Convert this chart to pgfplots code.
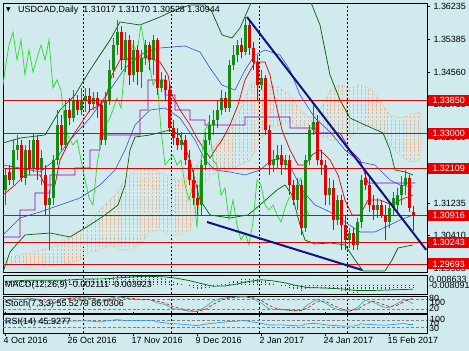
\documentclass[border=0pt]{standalone}
\usepackage{fontspec}
\setmainfont{Liberation Sans}
\newfontfamily\dejavu{DejaVu Sans}
\usepackage{pgfplots}
\pgfplotsset{compat=1.18}
\usepackage{pgfplotstable}
\usetikzlibrary{patterns.meta}
\definecolor{bg}{RGB}{208,234,238}
\definecolor{cgreen}{RGB}{20,140,20}
\definecolor{cred}{RGB}{230,0,0}
\definecolor{bbgreen}{RGB}{0,100,0}
\definecolor{bblue}{RGB}{50,80,200}
\definecolor{kpurple}{RGB}{150,0,170}
\definecolor{chikou}{RGB}{40,220,40}
\definecolor{trend}{RGB}{20,20,120}
\definecolor{cloud}{RGB}{240,180,140}
\definecolor{stk}{RGB}{32,178,170}
\definecolor{rsic}{RGB}{30,144,255}

\pgfplotstableread{
i o h l c
0 1.31570 1.32127 1.31189 1.31950
1 1.32026 1.32203 1.31696 1.31823
2 1.31823 1.32837 1.31696 1.32584
3 1.32584 1.32964 1.32330 1.32711
4 1.32711 1.32837 1.31772 1.31874
5 1.31874 1.32711 1.31696 1.32584
6 1.32584 1.32837 1.31950 1.32127
7 1.32127 1.33015 1.32026 1.32837
8 1.32837 1.32964 1.31823 1.32077
9 1.32077 1.32584 1.31696 1.32381
10 1.31950 1.32203 1.30936 1.31189
11 1.31189 1.31570 1.30048 1.31367
12 1.31367 1.32457 1.31189 1.32330
13 1.32330 1.33598 1.32203 1.33218
14 1.33218 1.33471 1.32584 1.32711
15 1.32711 1.33851 1.32584 1.33598
16 1.33598 1.33902 1.33218 1.33395
17 1.33395 1.34105 1.33294 1.33851
18 1.33851 1.33978 1.33471 1.33598
19 1.33598 1.34156 1.33471 1.33851
20 1.33851 1.34156 1.33547 1.33953
21 1.33953 1.34156 1.33547 1.33750
22 1.33750 1.34054 1.33598 1.33902
23 1.33902 1.34054 1.33395 1.33725
24 1.33725 1.33851 1.32711 1.32837
25 1.32837 1.34054 1.32711 1.33851
26 1.33851 1.34866 1.33725 1.34612
27 1.34612 1.35424 1.34409 1.35246
28 1.35246 1.35880 1.34992 1.35576
29 1.35576 1.35728 1.34612 1.34866
30 1.34866 1.35576 1.34561 1.35373
31 1.35373 1.35500 1.34232 1.34485
32 1.34485 1.35373 1.34308 1.35119
33 1.35119 1.35246 1.34232 1.34561
34 1.34561 1.35119 1.34156 1.34916
35 1.34916 1.35373 1.34739 1.35246
36 1.35246 1.35322 1.34612 1.34866
37 1.34866 1.35500 1.34485 1.35373
38 1.35373 1.35424 1.33978 1.34156
39 1.34156 1.34561 1.34054 1.34359
40 1.34359 1.34485 1.33851 1.34105
41 1.34105 1.34308 1.33040 1.33142
42 1.33142 1.33344 1.32711 1.32888
43 1.32888 1.33142 1.32584 1.32711
44 1.32711 1.33040 1.32584 1.32837
45 1.32837 1.32964 1.32203 1.32330
46 1.32330 1.32584 1.31696 1.31823
47 1.31823 1.32077 1.31189 1.31367
48 1.31367 1.31696 1.30936 1.31189
49 1.31189 1.32330 1.30936 1.32203
50 1.32203 1.33040 1.32077 1.32837
51 1.32837 1.33471 1.32711 1.33218
52 1.33218 1.33598 1.32964 1.33344
53 1.33344 1.33851 1.33142 1.33598
54 1.33598 1.34105 1.33471 1.33902
55 1.33902 1.34054 1.33547 1.33649
56 1.33649 1.34866 1.33547 1.34739
57 1.34739 1.35246 1.34612 1.34992
58 1.34992 1.35373 1.34815 1.35246
59 1.35246 1.35424 1.34916 1.35069
60 1.35069 1.35956 1.34992 1.35753
61 1.35753 1.35880 1.34992 1.35170
62 1.35170 1.35322 1.34612 1.34815
63 1.34815 1.34992 1.33851 1.34232
64 1.34232 1.34612 1.34105 1.34409
65 1.34409 1.34485 1.32964 1.33091
66 1.33091 1.33218 1.31950 1.32203
67 1.32203 1.32584 1.32026 1.32330
68 1.32330 1.32711 1.32127 1.32457
69 1.32457 1.32711 1.31950 1.32203
70 1.32203 1.32457 1.32077 1.32330
71 1.32330 1.32457 1.31443 1.31696
72 1.31696 1.31823 1.31189 1.31316
73 1.31316 1.31874 1.31062 1.31696
74 1.31696 1.31823 1.30429 1.30606
75 1.30606 1.32457 1.30505 1.32330
76 1.32330 1.33218 1.32203 1.33091
77 1.33091 1.33725 1.32964 1.33294
78 1.33294 1.33471 1.32203 1.32330
79 1.32330 1.32584 1.31950 1.32203
80 1.32203 1.32330 1.31189 1.31443
81 1.31443 1.31874 1.31189 1.31620
82 1.31620 1.31823 1.30555 1.30809
83 1.30809 1.31443 1.30682 1.31316
84 1.31316 1.31443 1.30048 1.30682
85 1.30682 1.30936 1.30048 1.30302
86 1.30302 1.30606 1.30099 1.30479
87 1.30479 1.30606 1.30048 1.30175
88 1.30175 1.30860 1.30048 1.30758
89 1.30758 1.31950 1.30606 1.31823
90 1.31874 1.32077 1.31570 1.31696
91 1.31696 1.31874 1.31012 1.31189
92 1.31189 1.31443 1.30809 1.31062
93 1.31062 1.31367 1.30860 1.31189
94 1.31189 1.31316 1.30860 1.30936
95 1.30936 1.31189 1.30302 1.30758
96 1.30758 1.31265 1.30606 1.31113
97 1.31113 1.31519 1.30936 1.31367
98 1.31189 1.31620 1.31012 1.31443
99 1.31443 1.31925 1.31189 1.31696
100 1.31696 1.32077 1.31443 1.31874
101 1.31874 1.31950 1.31012 1.31113
102 1.31017 1.31170 1.30528 1.30944
}\candles

\pgfplotstableread{
i m
0 0.0035
1 0.0036
2 0.0040
3 0.0043
4 0.0042
5 0.0044
6 0.0043
7 0.0046
8 0.0044
9 0.0043
10 0.0036
11 0.0030
12 0.0032
13 0.0040
14 0.0043
15 0.0050
16 0.0052
17 0.0056
18 0.0057
19 0.0058
20 0.0058
21 0.0057
22 0.0057
23 0.0055
24 0.0046
25 0.0050
26 0.0058
27 0.0068
28 0.0078
29 0.0080
30 0.0083
31 0.0080
32 0.0081
33 0.0078
34 0.0077
35 0.0078
36 0.0075
37 0.0076
38 0.0068
39 0.0062
40 0.0055
41 0.0042
42 0.0030
43 0.0018
44 0.0010
45 0.0000
46 -0.0012
47 -0.0026
48 -0.0038
49 -0.0036
50 -0.0028
51 -0.0018
52 -0.0010
53 -0.0002
54 0.0008
55 0.0012
56 0.0025
57 0.0035
58 0.0044
59 0.0048
60 0.0056
61 0.0056
62 0.0054
63 0.0048
64 0.0044
65 0.0032
66 0.0018
67 0.0008
68 0.0000
69 -0.0008
70 -0.0012
71 -0.0022
72 -0.0032
73 -0.0036
74 -0.0048
75 -0.0040
76 -0.0030
77 -0.0022
78 -0.0022
79 -0.0023
80 -0.0030
81 -0.0034
82 -0.0042
83 -0.0044
84 -0.0050
85 -0.0056
86 -0.0060
87 -0.0064
88 -0.0062
89 -0.0050
90 -0.0044
91 -0.0042
92 -0.0040
93 -0.0038
94 -0.0037
95 -0.0037
96 -0.0034
97 -0.0030
98 -0.0026
99 -0.0020
100 -0.0016
101 -0.0019
102 -0.0021
}\macd

\pgfplotstableread{
i s
0 0.0030
5 0.0040
10 0.0041
15 0.0040
20 0.0052
25 0.0053
30 0.0066
35 0.0076
40 0.0070
43 0.0058
46 0.0038
49 0.0012
52 -0.0012
55 -0.0010
58 0.0008
61 0.0030
64 0.0045
67 0.0035
70 0.0018
73 -0.0008
76 -0.0025
80 -0.0028
84 -0.0036
88 -0.0050
92 -0.0050
96 -0.0045
100 -0.0041
102 -0.0039
}\macdsig

\pgfplotstableread{
i k d
0 70 65
2 85 78
4 75 80
6 88 82
8 80 82
10 45 65
12 60 55
14 85 72
16 88 85
18 90 88
20 88 89
22 85 87
24 60 75
26 85 75
28 97 88
30 88 90
32 80 85
34 78 80
36 80 79
38 60 70
40 50 58
42 25 38
44 20 25
46 10 15
48 8 10
50 35 20
52 70 50
54 85 75
56 92 88
58 95 93
60 97 95
62 85 90
64 60 75
66 25 45
68 20 25
70 18 20
72 12 15
74 15 13
76 55 35
78 80 65
80 60 70
82 30 45
84 15 25
86 10 12
88 30 20
90 75 50
92 65 70
94 40 55
96 30 38
98 55 45
100 80 70
102 55.53 86.03
}\stoch

\pgfplotstableread{
i r
0 58
3 60
6 62
9 58
11 50
13 60
16 64
20 66
24 60
26 68
28 72
31 66
34 68
37 68
38 60
41 52
44 48
47 42
48 40
50 48
53 55
56 62
58 64
60 68
61 62
63 56
65 48
66 43
69 44
72 40
74 38
75 48
77 52
79 48
81 42
84 38
86 37
88 40
89 50
91 46
93 44
95 42
97 46
99 50
100 51
101 46
102 45.93
}\rsi

\newcommand{\fs}{\fontsize{9}{10}\selectfont}

\pgfplotsset{
  every tick label/.append style={font=\fs, text=black},
  panel/.style={scale only axis, width=424bp, xmin=-0.5, xmax=105.5,
    anchor=south west, axis line style={black, line width=0.8bp},
    xtick={19.5,41.5,63.5,85.5}, xticklabels={}, xtick style={draw=none},
    xmajorgrids=true, ymajorgrids=false,
    major grid style={black, dash pattern=on 2bp off 2bp, line width=0.6bp},
    clip mode=individual, ytick=\empty},
}

\begin{document}
\begin{tikzpicture}
\path[use as bounding box, fill=bg] (0,0) rectangle (469bp,351bp);

% ---------------- main price panel ----------------
\begin{axis}[panel, at={(3bp,79bp)}, height=269bp,
  ymin=1.29490, ymax=1.36311,
  ytick={1.29583,1.30410,1.31235,1.32085,1.32910,1.33735,1.34560,1.35385,1.36235},
  yticklabels={1.29583,1.30410,1.31235,1.32085,1.32910,1.33735,1.34560,1.35385,1.36235},
  ytick pos=right, yticklabel pos=right, ytick style={black, line width=0.6bp},
  tick align=outside, major tick length=3bp]

% Ichimoku cloud
\addplot[draw=cloud, dash pattern=on 1.5bp off 1.5bp, line width=0.5bp,
  pattern={Lines[angle=90,distance=3.8bp,line width=0.45bp]}, pattern color=cloud]
 coordinates {(0,1.29845)(3.75,1.29921)(8.75,1.30048)(13.75,1.30175)(17.5,1.30505)(20,1.30606)(22.5,1.30936)(25,1.31189)(27.5,1.31443)(30,1.31823)(32.5,1.32077)(36.25,1.32127)(40,1.31950)(43.75,1.31823)(46.25,1.31950)(48.75,1.32330)(51.25,1.32584)(53.75,1.32837)(56.25,1.33091)(58.75,1.33598)(61.25,1.34232)(63.75,1.34359)(66.25,1.34232)(68.75,1.34156)(71.25,1.33978)(73.75,1.33598)(76.25,1.33395)(78.75,1.33598)(81.25,1.34105)(83.75,1.34232)(86.25,1.34156)(88.75,1.34232)(91.25,1.34156)(93.75,1.33851)(96.25,1.33471)(98.75,1.33395)(101.25,1.33471)(103.75,1.33547)
 (103.75,1.32330)(101.25,1.32279)(98.75,1.32457)(96.25,1.32711)(93.75,1.33091)(91.25,1.33218)(88.75,1.33142)(86.25,1.32888)(83.75,1.32837)(81.25,1.32837)(78.75,1.32964)(76.25,1.33091)(73.75,1.33142)(71.25,1.33294)(68.75,1.33218)(66.25,1.33142)(63.75,1.32837)(61.25,1.32330)(58.75,1.32203)(56.25,1.32077)(53.75,1.32026)(51.25,1.31950)(48.75,1.31570)(46.25,1.30555)(43.75,1.30429)(41.25,1.30429)(38.75,1.30555)(36.25,1.30505)(33.75,1.30175)(31.25,1.30048)(28.75,1.30048)(26.25,1.30175)(23.75,1.30048)(21.25,1.29998)(18.75,1.29795)(13.75,1.29668)(8.75,1.29592)(3.75,1.29592)(0,1.29592)} -- cycle;

% Bollinger (dark green)
\addplot[bbgreen, line width=0.7bp, mark=none] coordinates {(-0.5,1.32761)(3.75,1.32888)(10,1.32964)(13.75,1.33598)(17.5,1.33978)(21.25,1.34612)(26.25,1.35373)(28.75,1.35829)(33.75,1.35753)(38.75,1.35956)(42.5,1.36133)(46.25,1.36260)(50,1.36260)(51.75,1.36083)(54.25,1.35500)(56.75,1.35424)(58.75,1.35677)(61.25,1.36260)(63.75,1.36641)(73.75,1.36641)(76.25,1.36387)(78.75,1.35753)(81.25,1.34485)(83.75,1.33851)(86.25,1.33395)(90,1.33218)(94.5,1.33015)(96.25,1.32584)(97.5,1.32077)(100,1.32026)(102,1.31950)};
\addplot[bbgreen, line width=0.7bp, mark=none] coordinates {(-0.5,1.29490)(1.25,1.29998)(5,1.30429)(11.25,1.30479)(16.25,1.30378)(21.25,1.30682)(25,1.30936)(28.25,1.31189)(30,1.31696)(31.25,1.32584)(32.5,1.32913)(36.25,1.32964)(41.25,1.33091)(43.75,1.32964)(46.25,1.32330)(48.75,1.31316)(51.25,1.30936)(56.25,1.30860)(60.75,1.30936)(63.75,1.31189)(68,1.31570)(70,1.31696)(71.75,1.31443)(73.75,1.30682)(75,1.30302)(77.5,1.30200)(81.25,1.30226)(85,1.30175)(87.5,1.29795)(89.5,1.29516)(95,1.29516)(96.75,1.29795)(98.25,1.30099)(102,1.30175)};

% blue bands
\addplot[bblue, line width=0.6bp, mark=none] coordinates {(-0.5,1.32203)(3.75,1.32127)(8.75,1.32026)(12.5,1.32330)(16.25,1.32837)(21.25,1.33395)(26.25,1.34105)(30,1.34663)(35,1.35069)(38.75,1.35170)(45,1.35221)(48.75,1.35069)(51.25,1.34663)(54.25,1.34232)(57.5,1.34105)(60,1.34612)(62.5,1.34992)(65,1.35119)(68.75,1.34992)(71.25,1.34612)(73.75,1.33978)(77.5,1.33395)(81.25,1.33040)(85,1.32584)(88.75,1.32279)(92.5,1.32203)(96.25,1.31823)(98.75,1.31696)(102,1.31646)};
\addplot[bblue, line width=0.6bp, mark=none] coordinates {(-0.5,1.30429)(3.75,1.30860)(8.75,1.31012)(13.75,1.31189)(18.75,1.31367)(23.75,1.31696)(27.5,1.32077)(30,1.32584)(32.5,1.33218)(36.25,1.33598)(40,1.33649)(43.75,1.33395)(47.5,1.32837)(50,1.32330)(52.5,1.32077)(56.25,1.32026)(60,1.31950)(63.75,1.32077)(66.75,1.32330)(69.25,1.32381)(71.75,1.32077)(74.25,1.31570)(77.5,1.31189)(81.25,1.31012)(85,1.30758)(88.75,1.30505)(92.5,1.30505)(96.25,1.30682)(98.75,1.30809)(102,1.30936)};

% Kijun (purple)
\addplot[kpurple, line width=0.7bp, mark=none] coordinates {(-0.5,1.30378)(3.75,1.30378)(3.75,1.31062)(7.5,1.31062)(7.5,1.31493)(11.25,1.31493)(11.25,1.31950)(17.5,1.31950)(17.5,1.32127)(21.25,1.32127)(21.25,1.32584)(23.75,1.32584)(23.75,1.32964)(33.75,1.32964)(33.75,1.33598)(35.75,1.33598)(35.75,1.34359)(40,1.34359)(40,1.33978)(42.5,1.33978)(42.5,1.33598)(46.25,1.33598)(46.25,1.33344)(50,1.33344)(50,1.33218)(60,1.33218)(60,1.33420)(71.25,1.33420)(71.25,1.33142)(77.5,1.33142)(77.5,1.33015)(83.75,1.33015)(86.25,1.32584)(88.75,1.32330)(90.75,1.31747)(102.5,1.31747)};

% Tenkan (red)
\addplot[cred, line width=0.7bp, mark=none] coordinates {(-0.5,1.31443)(2.5,1.31696)(5,1.31950)(8.75,1.31950)(10,1.31696)(12.5,1.31696)(13.75,1.32330)(16.25,1.32837)(18.75,1.33218)(21.25,1.33598)(23.75,1.33725)(25,1.33851)(26.75,1.34485)(28.75,1.34866)(32.5,1.34916)(36.25,1.34916)(38.75,1.34815)(40.75,1.34485)(41.75,1.33978)(43.75,1.33598)(46.25,1.33218)(48.25,1.32837)(50,1.32584)(51.25,1.32381)(52.5,1.32584)(54.25,1.32837)(56.25,1.33218)(58.25,1.33725)(60,1.34359)(62.5,1.34815)(65,1.34815)(66.25,1.34485)(67.5,1.33851)(69.25,1.33091)(71.25,1.32584)(73.25,1.32203)(75,1.32203)(76.75,1.32457)(78.75,1.32584)(81.25,1.32330)(83.25,1.31950)(85,1.31316)(86.75,1.30936)(88.75,1.30936)(90.75,1.31316)(93.75,1.31316)(96.75,1.31189)(98.75,1.31316)(102,1.31443)};

% Chikou span: closes shifted 26 bars back
\addplot[chikou, line width=0.7bp, mark=none] table[x expr=\thisrow{i}-26, y=c] \candles;

% candles: wicks and bodies
\addplot[draw=none, mark=none, restrict expr to domain={\thisrow{c}-\thisrow{o}}{0:1},
  error bars/.cd, y dir=both, y explicit, error mark=none,
  error bar style={line width=0.9bp, cgreen}]
  table[x=i, y expr=(\thisrow{h}+\thisrow{l})/2, y error expr=(\thisrow{h}-\thisrow{l})/2] \candles;
\addplot[draw=none, mark=none, restrict expr to domain={\thisrow{c}-\thisrow{o}}{0:1},
  error bars/.cd, y dir=both, y explicit, error mark=none,
  error bar style={line width=3bp, cgreen}]
  table[x=i, y expr=(\thisrow{o}+\thisrow{c})/2, y error expr=abs(\thisrow{c}-\thisrow{o})/2] \candles;
\addplot[draw=none, mark=none, restrict expr to domain={\thisrow{c}-\thisrow{o}}{-1:0},
  error bars/.cd, y dir=both, y explicit, error mark=none,
  error bar style={line width=0.9bp, cred}]
  table[x=i, y expr=(\thisrow{h}+\thisrow{l})/2, y error expr=(\thisrow{h}-\thisrow{l})/2] \candles;
\addplot[draw=none, mark=none, restrict expr to domain={\thisrow{c}-\thisrow{o}}{-1:0},
  error bars/.cd, y dir=both, y explicit, error mark=none,
  error bar style={line width=3bp, cred}]
  table[x=i, y expr=(\thisrow{o}+\thisrow{c})/2, y error expr=abs(\thisrow{c}-\thisrow{o})/2] \candles;

% horizontal levels
\addplot[cred, line width=0.9bp, mark=none] coordinates {(-0.5,1.33850)(105.5,1.33850)};
\addplot[cred, line width=0.9bp, mark=none] coordinates {(-0.5,1.33000)(105.5,1.33000)};
\addplot[cred, line width=0.9bp, mark=none] coordinates {(-0.5,1.32109)(105.5,1.32109)};
\addplot[cred, line width=0.9bp, mark=none] coordinates {(-0.5,1.30916)(105.5,1.30916)};
\addplot[cred, line width=0.9bp, mark=none] coordinates {(-0.5,1.30243)(105.5,1.30243)};
\addplot[cred, line width=0.9bp, mark=none] coordinates {(-0.5,1.29693)(105.5,1.29693)};

% trend lines
\addplot[trend, line width=2bp, mark=none] coordinates {(60.5,1.35956)(105.3,1.30050)};
\addplot[trend, line width=2bp, mark=none] coordinates {(50.5,1.30758)(89.25,1.29541)};

\coordinate (lv1) at (axis cs:105.5,1.33850);
\coordinate (lv2) at (axis cs:105.5,1.33000);
\coordinate (lv3) at (axis cs:105.5,1.32109);
\coordinate (lv4) at (axis cs:105.5,1.30916);
\coordinate (lv5) at (axis cs:105.5,1.30243);
\coordinate (lv6) at (axis cs:105.5,1.29693);
\end{axis}

\tikzset{lvbox/.style={anchor=west, xshift=1bp, fill=cred, text=white, font=\fs, inner sep=1bp, minimum width=41bp, minimum height=11bp}}
\node[lvbox] at (lv1) {1.33850};
\node[lvbox] at (lv2) {1.33000};
\node[lvbox] at (lv3) {1.32109};
\node[lvbox] at (lv4) {1.30916};
\node[lvbox] at (lv5) {1.30243};
\node[lvbox] at (lv6) {1.29693};

% ---------------- MACD ----------------
\begin{axis}[panel, at={(3bp,57bp)}, height=19bp, ymin=-0.0081, ymax=0.0087]
\addplot[ycomb, kpurple, line width=0.7bp, densely dotted, mark=none] table[x=i, y=m] \macd;
\addplot[bbgreen, line width=0.7bp, mark=none] table[x=i, y=s] \macdsig;
\end{axis}

% ---------------- Stochastic ----------------
\begin{axis}[panel, at={(3bp,38bp)}, height=17bp, ymin=0, ymax=100]
\addplot[gray, densely dashed, line width=0.5bp, mark=none] coordinates {(-0.5,20)(105.5,20)};
\addplot[gray, densely dashed, line width=0.5bp, mark=none] coordinates {(-0.5,80)(105.5,80)};
\addplot[stk, line width=0.6bp, mark=none] table[x=i, y=k] \stoch;
\addplot[cred, densely dashed, line width=0.6bp, mark=none] table[x=i, y=d] \stoch;
\end{axis}

% ---------------- RSI ----------------
\begin{axis}[panel, at={(3bp,18bp)}, height=18.5bp, ymin=0, ymax=100,
  extra x ticks={0,16,32,48,64,80,96},
  extra x tick labels={4 Oct 2016,26 Oct 2016,17 Nov 2016,9 Dec 2016,2 Jan 2017,24 Jan 2017,15 Feb 2017},
  extra x tick style={grid=none, xtick style={draw=black, line width=0.6bp}, major tick length=2.5bp, tick align=outside,
    xticklabel style={anchor=north west, xshift=-3bp, inner sep=1.5bp}}]
\addplot[gray, densely dashed, line width=0.5bp, mark=none] coordinates {(-0.5,30)(105.5,30)};
\addplot[gray, densely dashed, line width=0.5bp, mark=none] coordinates {(-0.5,70)(105.5,70)};
\addplot[rsic, line width=0.6bp, mark=none] table[x=i, y=r] \rsi;
\end{axis}

% ---------------- texts ----------------
\node[anchor=west, inner sep=0] at (6bp,341bp) {\dejavu\fontsize{6}{6}\selectfont ▼};
\node[anchor=west, inner sep=0, font=\fs] at (18bp,341bp) {USDCAD,Daily\ \ 1.31017 1.31170 1.30528 1.30944};
\node[anchor=west, inner sep=0, font=\fs] at (5bp,66bp) {MACD(12,26,9) -0.002111 -0.003923};
\node[anchor=west, inner sep=0, font=\fs] at (5bp,47bp) {Stoch(7,3,3) 55.5279 86.0306};
\node[anchor=west, inner sep=0, font=\fs] at (5bp,28.5bp) {RSI(14) 45.9277};
\node[anchor=west, inner sep=0, font=\fs] at (429bp,72bp) {0.008633};
\node[anchor=west, inner sep=0, font=\fs] at (429bp,66bp) {-0.008091};
\node[anchor=west, inner sep=0, font=\fs] at (429bp,53bp) {80};
\node[anchor=west, inner sep=0, font=\fs] at (430bp,49bp) {100};
\node[anchor=west, inner sep=0, font=\fs] at (429bp,43bp) {20};
\node[anchor=west, inner sep=0, font=\fs] at (430bp,32bp) {100};
\node[anchor=west, inner sep=0, font=\fs] at (429bp,28bp) {70};
\node[anchor=west, inner sep=0, font=\fs] at (429bp,23bp) {30};
\end{tikzpicture}
\end{document}
